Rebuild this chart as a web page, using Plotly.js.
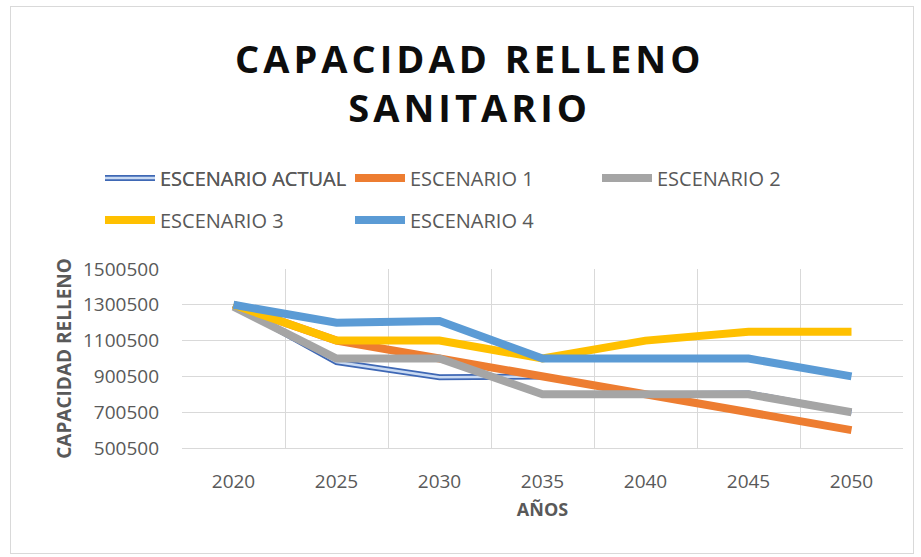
<!DOCTYPE html>
<html>
<head>
<meta charset="utf-8">
<script src="https://cdn.plot.ly/plotly-3.0.1.min.js"></script>
<style>
html,body{margin:0;padding:0;background:#fff;}
#wrap{position:relative;width:921px;height:557px;}
#chart{width:921px;height:557px;}
#frame{position:absolute;left:10px;top:6px;width:902px;height:546px;border:1px solid #d9d9d9;pointer-events:none;}
.gtitle{letter-spacing:4px;}
</style>
</head>
<body>
<div id="wrap"><div id="chart"></div><div id="frame"></div></div>
<script>
const years = ['2020','2025','2030','2035','2040','2045','2050'];
const escenarioActual = [1300500, 980500, 895500, 900500, 800500, 805500, 700500];
const escenario1 = [1300500, 1100500, 1000500, 900500, 800500, 700500, 600500];
const escenario2 = [1290500, 1000500, 1000500, 800500, 800500, 800500, 700500];
const escenario3 = [1300500, 1100500, 1100500, 1000500, 1100500, 1150500, 1150500];
const escenario4 = [1300500, 1200500, 1210500, 1000500, 1000500, 1000500, 900500];
const seriesNames = ['ESCENARIO ACTUAL','ESCENARIO 1','ESCENARIO 2','ESCENARIO 3','ESCENARIO 4'];
const yTicks = [500500, 700500, 900500, 1100500, 1300500, 1500500];

const W = 8;
const traces = [
  {x: years, y: escenarioActual, name: seriesNames[0], type:'scatter', mode:'lines',
   line:{color:'#3F68B5', width:6}, legend:'legend'},
  {x: years, y: escenarioActual, name: seriesNames[0], type:'scatter', mode:'lines',
   line:{color:'#C9DAF2', width:2.6}, legend:'legend6'},
  {x: years, y: escenario1, name: seriesNames[1], type:'scatter', mode:'lines',
   line:{color:'#ED7D31', width:W}, legend:'legend2'},
  {x: years, y: escenario2, name: seriesNames[2], type:'scatter', mode:'lines',
   line:{color:'#A5A5A5', width:W}, legend:'legend3'},
  {x: years, y: escenario3, name: seriesNames[3], type:'scatter', mode:'lines',
   line:{color:'#FFC000', width:W}, legend:'legend4'},
  {x: years, y: escenario4, name: seriesNames[4], type:'scatter', mode:'lines',
   line:{color:'#5B9BD5', width:W}, legend:'legend5'}
];

function leg(px, py) {
  return {
    orientation:'h', xref:'container', yref:'container', xanchor:'left', yanchor:'middle',
    x: px/921, y: 1 - py/557, bgcolor:'rgba(0,0,0,0)', itemwidth:50,
    font:{family:'Open Sans, sans-serif', size:20, color:'#595959'}
  };
}

const layout = {
  width:921, height:557,
  paper_bgcolor:'#fff', plot_bgcolor:'#fff',
  margin:{l:182, r:18, t:269, b:109},
  title:{text:'CAPACIDAD RELLENO<br>SANITARIO', x:0.51, xanchor:'center', y:1-73/557, yanchor:'middle',
         font:{family:'Open Sans, sans-serif', size:38, color:'#0d0d0d', weight:700}},
  showlegend:true,
  legend: leg(100, 178),
  legend6: leg(100, 178),
  legend2: leg(350, 178),
  legend3: leg(597, 178),
  legend4: leg(100, 220),
  legend5: leg(350, 220),
  xaxis:{type:'category', range:[-0.5,6.5], tickson:'boundaries', showgrid:true, gridcolor:'#d9d9d9', gridwidth:1,
         ticks:'', showline:true, linecolor:'#d9d9d9', mirror:false, zeroline:false,
         tickfont:{family:'Open Sans, sans-serif', size:19, color:'#595959'}, ticklabelstandoff:16,
         title:{text:'AÑOS', font:{family:'Open Sans, sans-serif', size:18, color:'#595959', weight:700}, standoff:10}},
  yaxis:{range:[500500,1500500], tickvals:yTicks, ticktext:yTicks.map(v=>String(v)), showgrid:true, gridcolor:'#d9d9d9',
         zeroline:false, showline:false, ticks:'',
         tickfont:{family:'Open Sans, sans-serif', size:19, color:'#595959'}, ticklabelstandoff:22,
         title:{text:'CAPACIDAD RELLENO', font:{family:'Open Sans, sans-serif', size:19, color:'#595959', weight:700}, standoff:6}}
};

Plotly.newPlot('chart', traces, layout, {displayModeBar:false, staticPlot:true});
</script>
</body>
</html>
